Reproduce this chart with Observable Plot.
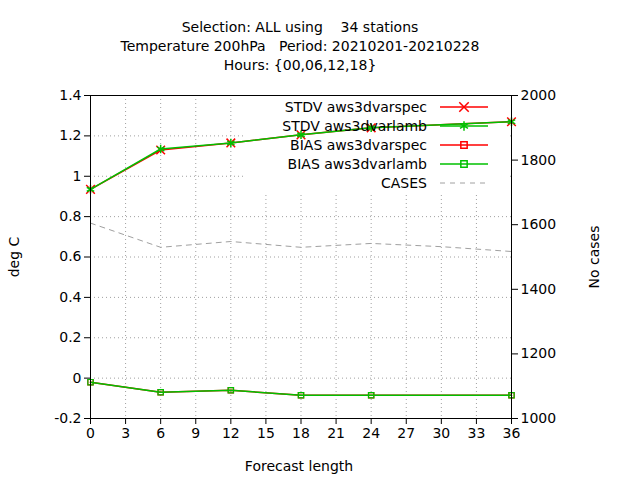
<!DOCTYPE html>
<html><head><meta charset="utf-8">
<script src="https://cdn.jsdelivr.net/npm/d3@7"></script>
<script src="https://cdn.jsdelivr.net/npm/@observablehq/plot@0.6"></script>
<style>body{margin:0;background:#fff}</style>
</head><body><div id="chart"></div>
<script>
const hours = [0, 6, 12, 18, 24, 36]
const stdvSpec = [0.935, 1.13, 1.165, 1.205, 1.24, 1.27]
const stdvLamb = [0.935, 1.135, 1.165, 1.205, 1.24, 1.27]
const biasSpec = [-0.02, -0.07, -0.06, -0.085, -0.085, -0.085]
const biasLamb = [-0.02, -0.07, -0.06, -0.085, -0.085, -0.085]
const caseHours = [0, 6, 12, 18, 24, 30, 36]
const cases = [1605, 1530, 1548, 1530, 1542, 1532, 1517]
const titleLines = ["Selection: ALL using    34 stations", "Temperature 200hPa   Period: 20210201-20210228", "Hours: {00,06,12,18}"]

// right axis 1000..2000 mapped onto left axis -0.2..1.4
const toLeft = c => -0.2 + (c - 1000) / 1000 * 1.6
const toRight = v => 1000 + (v + 0.2) / 1.6 * 1000

const rows = (ys, name) => hours.map((h, i) => ({h, v: ys[i], name}))
const caseRows = caseHours.map((h, i) => ({h, v: toLeft(cases[i])}))
const red = "#ff0000", green = "#00c000"

const chart = Plot.plot({
  width: 640, height: 480,
  marginLeft: 90, marginRight: 129, marginTop: 95, marginBottom: 62,
  style: {fontFamily: "DejaVu Sans", fontSize: "14px", color: "#000"},
  x: {domain: [0, 36], ticks: d3.range(0, 37, 3), label: null},
  y: {domain: [-0.2, 1.4], ticks: d3.range(-0.2, 1.41, 0.2), label: null},
  marks: [
    Plot.gridX(d3.range(0, 37, 3), {stroke: "#a0a0a0", strokeOpacity: 1, strokeDasharray: "1,3"}),
    Plot.gridY(d3.range(-0.2, 1.41, 0.2), {stroke: "#a0a0a0", strokeOpacity: 1, strokeDasharray: "1,3"}),
    Plot.axisX({ticks: d3.range(0, 37, 3), tickSize: 6, tickPadding: 4, label: null, fontSize: 14}),
    Plot.axisY({ticks: d3.range(-0.2, 1.41, 0.2), tickFormat: d => String(+d.toFixed(1)), tickSize: 6, label: null, fontSize: 14}),
    Plot.axisY({anchor: "right", ticks: d3.range(1000, 2001, 200).map(toLeft), tickFormat: d => String(Math.round(toRight(d))), tickSize: 6, label: null, fontSize: 14}),
    Plot.line(caseRows, {x: "h", y: "v", stroke: "#a0a0a0", strokeDasharray: "5,5", strokeWidth: 1}),
    Plot.line(rows(stdvSpec), {x: "h", y: "v", stroke: red, strokeWidth: 1.5}),
    Plot.dot(rows(stdvSpec), {x: "h", y: "v", stroke: red, symbol: "times", r: 4, strokeWidth: 1.5}),
    Plot.line(rows(stdvLamb), {x: "h", y: "v", stroke: green, strokeWidth: 1.5}),
    Plot.dot(rows(stdvLamb), {x: "h", y: "v", stroke: green, symbol: "asterisk", r: 4, strokeWidth: 1.5}),
    Plot.line(rows(biasSpec), {x: "h", y: "v", stroke: red, strokeWidth: 1.5}),
    Plot.dot(rows(biasSpec), {x: "h", y: "v", stroke: red, symbol: "square", r: 3, strokeWidth: 1.2}),
    Plot.line(rows(biasLamb), {x: "h", y: "v", stroke: green, strokeWidth: 1.5}),
    Plot.dot(rows(biasLamb), {x: "h", y: "v", stroke: green, symbol: "square", r: 3, strokeWidth: 1.2}),
    Plot.frame({stroke: "#000"})
  ]
})
d3.select('#chart').append(() => chart)

const svg = d3.select(chart)
const font = s => s.attr("font-size", 14).attr("font-family", "DejaVu Sans").attr("fill", "#000")
// title
titleLines.forEach((t, i) => svg.append("text").attr("x", 300).attr("y", 32 + i * 19)
  .attr("text-anchor", "middle").attr("xml:space", "preserve").style("white-space", "pre").call(font).text(t))
svg.append("text").attr("x", 299).attr("y", 471).attr("text-anchor", "middle").call(font).text("Forecast length")
svg.append("text").attr("transform", "translate(19,257) rotate(-90)").attr("text-anchor", "middle").call(font).text("deg C")
svg.append("text").attr("transform", "translate(599,257) rotate(-90)").attr("text-anchor", "middle").call(font).text("No cases")

// legend: white box sits over the grid but under the data lines
const legend = [
  {label: "STDV aws3dvarspec", color: red, sym: d3.symbolTimes, dash: null},
  {label: "STDV aws3dvarlamb", color: green, sym: d3.symbolAsterisk, dash: null},
  {label: "BIAS aws3dvarspec", color: red, sym: d3.symbolSquare, dash: null},
  {label: "BIAS aws3dvarlamb", color: green, sym: d3.symbolSquare, dash: null},
  {label: "CASES", color: "#a0a0a0", sym: null, dash: "5,5"}
]
const gridY = svg.select('[aria-label="y-grid"]').node()
const box = document.createElementNS("http://www.w3.org/2000/svg", "rect")
gridY.parentNode.insertBefore(box, gridY.nextSibling)
d3.select(box).attr("x", 243).attr("y", 97).attr("width", 266).attr("height", 98).attr("fill", "#fff")
legend.forEach((d, i) => {
  const y = 107 + i * 19
  svg.append("text").attr("x", 427).attr("y", y + 5).attr("text-anchor", "end").call(font).text(d.label)
  svg.append("line").attr("x1", 440).attr("x2", 488).attr("y1", y).attr("y2", y)
    .attr("stroke", d.color).attr("stroke-width", d.dash ? 1 : 1.5).attr("stroke-dasharray", d.dash)
  if (d.sym) svg.append("path").attr("transform", `translate(464,${y})`)
    .attr("d", d3.symbol(d.sym, d.sym === d3.symbolSquare ? 40 : 60)())
    .attr("fill", "none").attr("stroke", d.color).attr("stroke-width", 1.5)
})
</script></body></html>
